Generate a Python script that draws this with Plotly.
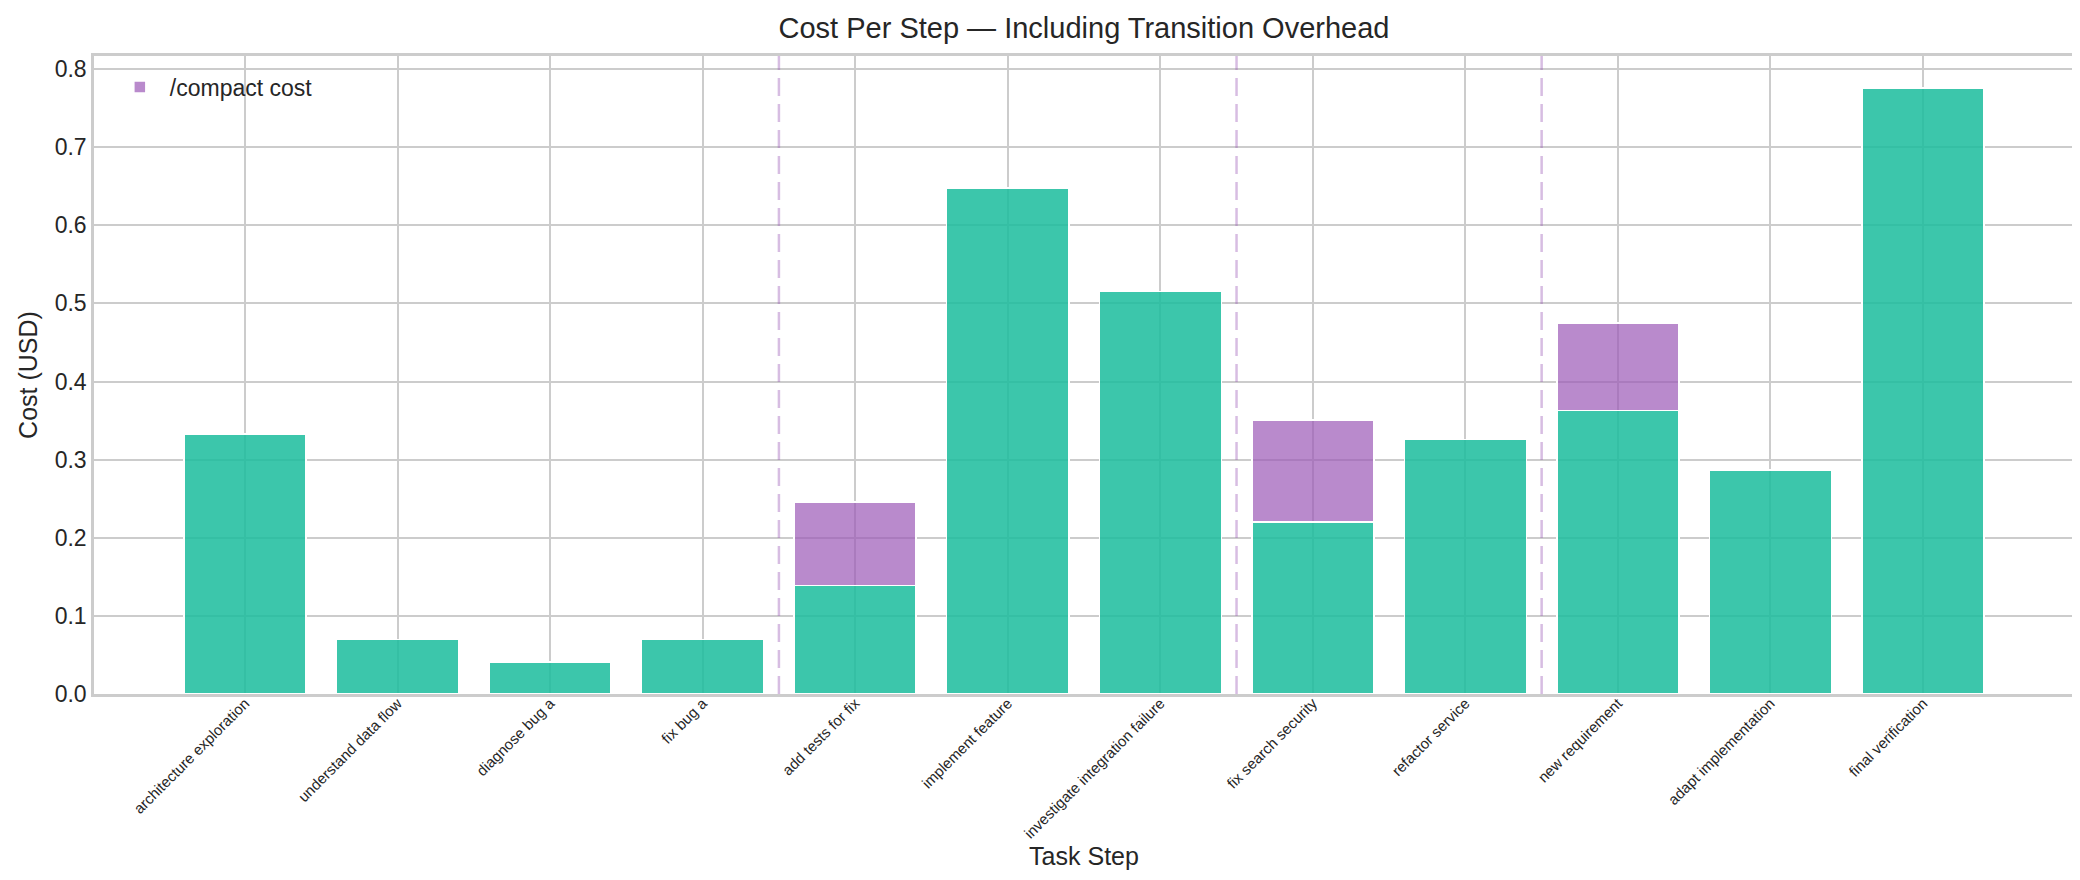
import plotly.graph_objects as go

# Task steps and their costs (USD)
steps = ["architecture exploration", "understand data flow", "diagnose bug a", "fix bug a",
         "add tests for fix", "implement feature", "investigate integration failure",
         "fix search security", "refactor service", "new requirement",
         "adapt implementation", "final verification"]
step_cost = [0.333, 0.070, 0.041, 0.070, 0.139, 0.648, 0.515, 0.220, 0.326, 0.363, 0.287, 0.776]
compact_cost = [0, 0, 0, 0, 0.107, 0, 0, 0.131, 0, 0.112, 0, 0]
y_ticks = [0.0, 0.1, 0.2, 0.3, 0.4, 0.5, 0.6, 0.7, 0.8]

FONT = "Liberation Sans, Arial, sans-serif"
TEXT = "#262626"
GRID = "#cccccc"

x_idx = list(range(len(steps)))

fig = go.Figure()

# step cost
fig.add_trace(go.Bar(
    x=x_idx, y=step_cost, width=0.8,
    marker=dict(color="rgba(26,188,156,0.85)", line=dict(color="white", width=1.5)),
    showlegend=False, name="step cost"
))

# /compact overhead stacked on top
fig.add_trace(go.Bar(
    x=x_idx, y=[c if c > 0 else None for c in compact_cost], width=0.8,
    marker=dict(color="rgba(155,89,182,0.7)", line=dict(color="white", width=1.5)),
    name="/compact cost"
))

# dashed markers where a /compact transition happened
for i, c in enumerate(compact_cost):
    if c > 0:
        fig.add_shape(type="line", xref="x", yref="paper", x0=i - 0.5, x1=i - 0.5, y0=0, y1=1,
                      line=dict(color="rgba(155,89,182,0.4)", width=2.5, dash="18px,8px"))

fig.update_layout(
    width=2080, height=880,
    barmode="stack",
    plot_bgcolor="white", paper_bgcolor="white",
    margin=dict(l=86, r=14, t=48, b=194, autoexpand=False),
    font=dict(family=FONT, color=TEXT, size=23),
    title=dict(text="Cost Per Step \u2014 Including Transition Overhead",
               font=dict(size=29, color=TEXT), x=0.5, xref="paper",
               y=1 - 20 / 880, yref="container", yanchor="middle"),
    legend=dict(x=0.008, y=0.985, xanchor="left", yanchor="top",
                bgcolor="rgba(0,0,0,0)", font=dict(size=23), itemwidth=50),
    xaxis=dict(
        range=[-0.99, 11.99], tickvals=x_idx, ticktext=steps, tickangle=-45,
        tickfont=dict(size=15), showgrid=True, gridcolor=GRID, gridwidth=2,
        showline=True, linecolor=GRID, linewidth=2.5, mirror=True, zeroline=False,
        ticks="", automargin=False, ticklabelstandoff=-8,
        title=dict(text="Task Step", font=dict(size=25), standoff=5),
    ),
    yaxis=dict(
        range=[0, 0.8167], tickvals=y_ticks, tickformat=".1f", tickfont=dict(size=23),
        showgrid=True, gridcolor=GRID, gridwidth=2,
        showline=True, linecolor=GRID, linewidth=2.5, mirror=True, zeroline=False,
        ticks="", automargin=False,
        title=dict(text="Cost (USD)", font=dict(size=25), standoff=10),
    ),
)

fig.write_html("out.html")
